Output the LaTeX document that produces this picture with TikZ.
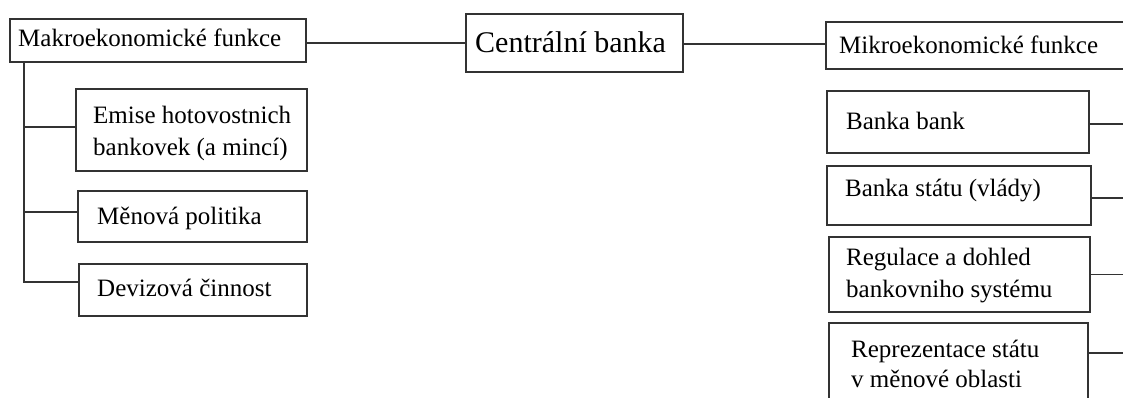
\documentclass[tikz,border=0pt]{standalone}
\usepackage{fontspec}
\setmainfont{Liberation Serif}
\newfontfamily\boxfont{Liberation Serif}
\definecolor{linec}{HTML}{333333}
\tikzset{
  box/.style={draw=linec, line width=1.8pt, rectangle, inner sep=0pt, anchor=north west},
  txt/.style={inner sep=0pt, anchor=base west, align=left, text=black,
    font=\boxfont\fontsize{25}{32}\selectfont},
  bigtxt/.style={txt, font=\boxfont\fontsize{30}{36}\selectfont},
  link/.style={draw=linec, line width=1.8pt},
}
\begin{document}
\begin{tikzpicture}[x=1pt, y=-1pt]
  \useasboundingbox (0,0) rectangle (1123,397);
  \clip (0,0) rectangle (1123,397);

  % central node
  \node[box, minimum width=217pt, minimum height=58pt] (cb) at (465,13) {};
  \node[bigtxt] (cb-t) at (475,52) {Centrální banka};

  % macroeconomic branch
  \node[box, minimum width=296pt, minimum height=43pt] (makro) at (9,18) {};
  \node[txt] (makro-t) at (18,46.5) {Makroekonomické funkce};

  \node[box, minimum width=231pt, minimum height=82pt] (emise) at (75,88) {};
  \node[txt] (emise-t) at (93,155.5) {Emise hotovostnich\\bankovek (a mincí)};

  \node[box, minimum width=229pt, minimum height=51pt] (menova) at (77,190) {};
  \node[txt] (menova-t) at (97,224) {Měnová politika};

  \node[box, minimum width=228pt, minimum height=52pt] (deviz) at (78,263) {};
  \node[txt] (deviz-t) at (97,296) {Devizová činnost};

  % microeconomic branch
  \node[box, minimum width=330pt, minimum height=47pt] (mikro) at (825,21) {};
  \node[txt] (mikro-t) at (839,53) {Mikroekonomické funkce};

  \node[box, minimum width=262pt, minimum height=62pt] (bb) at (826,90) {};
  \node[txt] (bb-t) at (846,129) {Banka bank};

  \node[box, minimum width=264pt, minimum height=59pt] (bs) at (826,165) {};
  \node[txt] (bs-t) at (845,196) {Banka státu (vlády)};

  \node[box, minimum width=261pt, minimum height=75pt] (reg) at (828,236) {};
  \node[txt] (reg-t) at (846,297) {Regulace a dohled\\bankovniho systému};

  \node[box, minimum width=259pt, minimum height=90pt] (rep) at (828,322) {};
  \node[txt, font=\boxfont\fontsize{25}{30}\selectfont] (rep-t) at (851,387) {Reprezentace státu\\v měnové oblasti};

  % top-level links
  \draw[link] (cb.west) -- (cb.west -| makro.east);
  \draw[link] ([yshift=1.5pt]mikro.west) -- ([yshift=1.5pt]mikro.west -| cb.east);

  % left tree
  \coordinate (trunk) at ([xshift=15pt]makro.south west);
  \draw[link] (trunk) |- ([yshift=3pt]emise.west);
  \draw[link] (trunk) |- ([yshift=4.5pt]menova.west);
  \draw[link] (trunk) |- ([yshift=8pt]deviz.west);

  % right stubs leading off the page
  \coordinate (rim) at (1135,0);
  \draw[link] ([yshift=-2pt]bb.east) -- ([yshift=-2pt]bb.east -| rim);
  \draw[link] ([yshift=-2.5pt]bs.east) -- ([yshift=-2.5pt]bs.east -| rim);
  \draw[link] (reg.east) -- (reg.east -| rim);
  \draw[link] (rep.north east) ++(0,31) coordinate (rep-s) -- (rep-s -| rim);
\end{tikzpicture}
\end{document}
